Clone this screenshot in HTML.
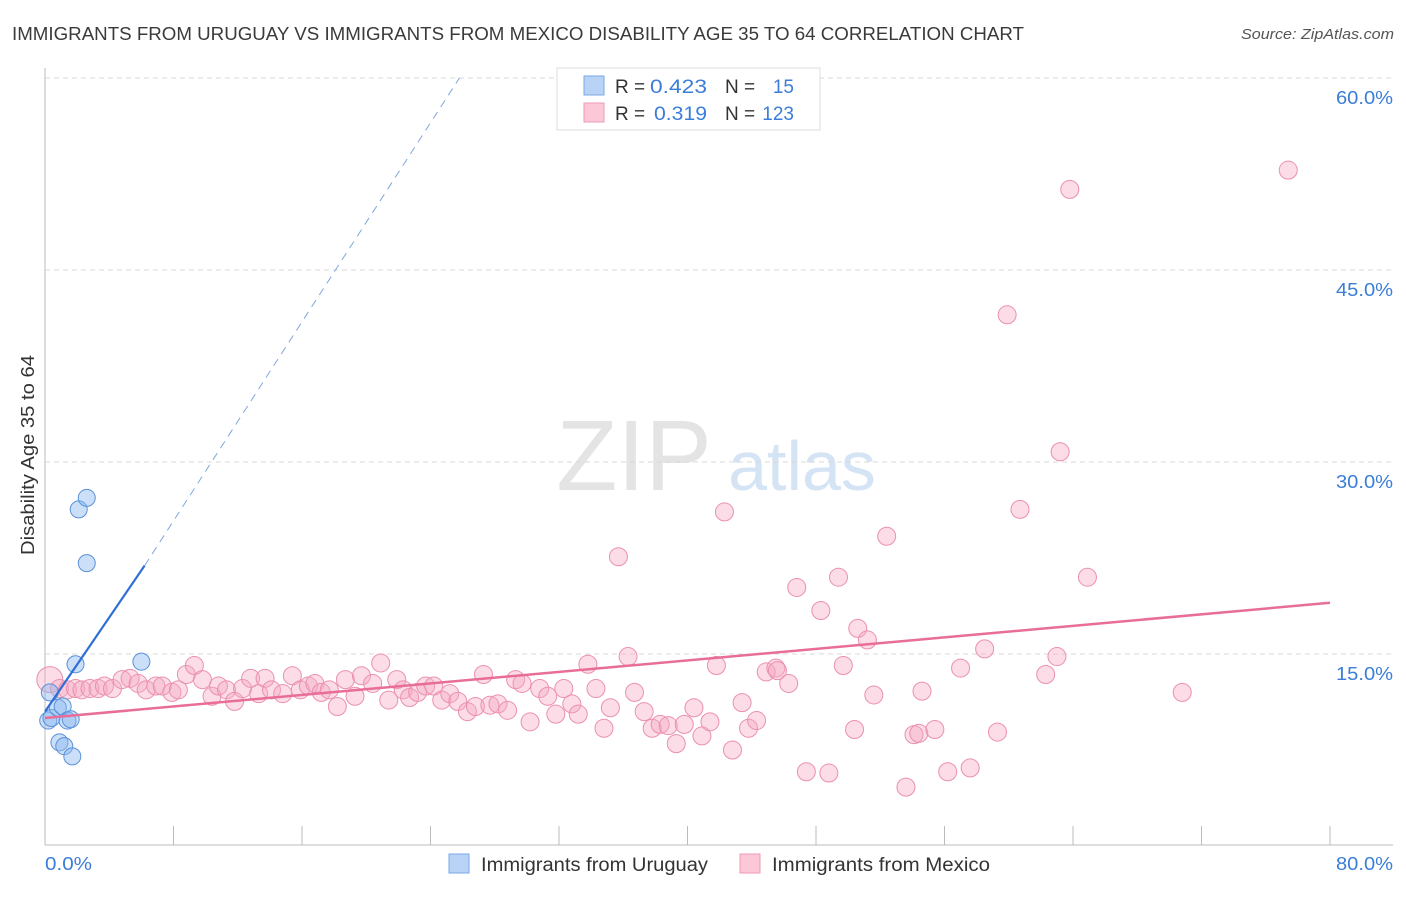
<!DOCTYPE html>
<html><head><meta charset="utf-8"><style>
body{margin:0;background:#fff;font-family:"Liberation Sans",sans-serif}
svg text{font-family:"Liberation Sans",sans-serif}
</style></head><body>
<svg id="chart" width="1406" height="892" viewBox="0 0 1406 892" xmlns="http://www.w3.org/2000/svg">
<text x="12" y="40" font-size="18" fill="#3a3a3a" textLength="1012" lengthAdjust="spacingAndGlyphs">IMMIGRANTS FROM URUGUAY VS IMMIGRANTS FROM MEXICO DISABILITY AGE 35 TO 64 CORRELATION CHART</text>
<text x="1241" y="39" font-size="15" fill="#555" font-style="italic" textLength="153" lengthAdjust="spacingAndGlyphs">Source: ZipAtlas.com</text>
<g>
<text x="634" y="490" font-size="100" fill="#e4e4e4" font-family="Liberation Serif" text-anchor="middle">ZIP</text>
<text x="802" y="490" font-size="70" fill="#d5e4f5" text-anchor="middle">atlas</text>
</g>
<g id="grid"></g>
<g id="axes"></g>
<g id="pink"></g>
<g id="blue"></g>
<g id="lines"></g>
<g>
<rect x="557" y="68" width="263" height="62" fill="#fff" stroke="#ddd"/>
<rect x="584" y="76" width="20" height="19" fill="#b8d3f5" stroke="#7aaae6"/>
<rect x="584" y="103" width="20" height="19" fill="#fcc8d8" stroke="#ef9ab5"/>
<text x="615" y="93" font-size="19" fill="#333">R = </text><text x="650" y="93" font-size="19" fill="#3b7dd8" textLength="57" lengthAdjust="spacingAndGlyphs">0.423</text>
<text x="725" y="93" font-size="19" fill="#333">N = </text><text x="794" y="93" font-size="19" fill="#3b7dd8" text-anchor="end">15</text>
<text x="615" y="120" font-size="19" fill="#333">R = </text><text x="654" y="120" font-size="19" fill="#3b7dd8" textLength="53" lengthAdjust="spacingAndGlyphs">0.319</text>
<text x="725" y="120" font-size="19" fill="#333">N = </text><text x="794" y="120" font-size="19" fill="#3b7dd8" text-anchor="end">123</text>
</g>
<g>
<rect x="449" y="854" width="20" height="19" fill="#b8d3f5" stroke="#7aaae6"/>
<text x="481" y="871" font-size="19" fill="#333" textLength="227" lengthAdjust="spacingAndGlyphs">Immigrants from Uruguay</text>
<rect x="740" y="854" width="20" height="19" fill="#fcc8d8" stroke="#ef9ab5"/>
<text x="772" y="871" font-size="19" fill="#333" textLength="218" lengthAdjust="spacingAndGlyphs">Immigrants from Mexico</text>
</g>
<text transform="translate(34,455) rotate(-90)" font-size="18" fill="#333" text-anchor="middle" textLength="200" lengthAdjust="spacingAndGlyphs">Disability Age 35 to 64</text>
</svg>
<script>
const yTicks=[15,30,45,60];
const yTickLabels=["15.0%","30.0%","45.0%","60.0%"];
const xTicks=[0,8,16,24,32,40,48,56,64,72,80];
const xEndLabels=["0.0%","80.0%"];
const blueX=[0.2,0.4,0.8,0.3,1.1,1.4,1.6,0.9,1.2,1.7,1.9,6.0,2.6,2.1,2.6];
const blueY=[9.8,10.0,10.8,12.0,10.9,9.8,9.9,8.1,7.8,7.0,14.2,14.4,22.1,26.3,27.2];
const pinkX=[0.3,0.9,1.4,1.9,2.3,2.8,3.3,3.7,4.2,4.8,5.3,5.8,6.3,6.9,7.3,7.9,8.3,8.8,9.3,9.8,10.4,10.8,11.3,11.8,12.3,12.8,13.3,13.7,14.1,14.8,15.4,15.9,16.4,16.8,17.2,17.7,18.2,18.7,19.3,19.7,20.4,20.9,21.4,21.9,22.3,22.7,23.2,23.7,24.2,24.7,25.2,25.7,26.3,26.8,27.3,27.7,28.2,28.8,29.3,29.7,30.2,30.8,31.3,31.8,32.3,32.8,33.2,33.8,34.3,34.8,35.2,35.7,36.3,36.7,37.3,37.8,38.3,38.8,39.3,39.8,40.4,40.9,41.4,41.8,42.3,42.8,43.4,43.8,44.3,44.9,45.5,45.6,46.3,46.8,47.4,48.3,48.8,49.4,49.7,50.4,50.6,51.2,51.6,52.4,53.6,54.1,54.4,54.6,55.4,56.2,57.0,57.6,58.5,59.3,59.9,60.7,62.3,63.0,63.2,63.8,64.9,70.8,77.4];
const pinkY=[13.0,12.3,12.2,12.3,12.2,12.3,12.3,12.5,12.3,13.0,13.1,12.7,12.2,12.5,12.5,12.0,12.2,13.4,14.1,13.0,11.7,12.5,12.2,11.3,12.3,13.1,11.9,13.1,12.2,11.9,13.3,12.2,12.5,12.7,12.0,12.2,10.9,13.0,11.7,13.3,12.7,14.3,11.4,13.0,12.2,11.6,12.0,12.5,12.5,11.4,11.9,11.3,10.5,10.9,13.4,11.0,11.1,10.6,13.0,12.7,9.7,12.3,11.7,10.3,12.3,11.1,10.3,14.2,12.3,9.2,10.8,22.6,14.8,12.0,10.5,9.2,9.5,9.4,8.0,9.5,10.8,8.6,9.7,14.1,26.1,7.5,11.2,9.2,9.8,13.6,13.9,13.7,12.7,20.2,5.8,18.4,5.7,21.0,14.1,9.1,17.0,16.1,11.8,24.2,4.6,8.7,8.8,12.1,9.1,5.8,13.9,6.1,15.4,8.9,41.5,26.3,13.4,14.8,30.8,51.3,21.0,12.0,52.8];
const blueLine=[[0,10.5],[6.2,21.9]];
const blueDash=[[6.2,21.9],[25.8,60]];
const pinkLine=[[0,10.0],[80,19.0]];
const NS="http://www.w3.org/2000/svg";
const X0=45,X1=1330,Y0=846,PXY=12.8;
const sx=v=>X0+(X1-X0)*v/80;
const sy=v=>Y0-v*PXY;
function mk(parent,tag,attrs){const e=document.createElementNS(NS,tag);for(const k in attrs)e.setAttribute(k,attrs[k]);document.getElementById(parent).appendChild(e);return e;}
yTicks.forEach((t,i)=>{
 const g=mk('grid','line',{x1:X0,x2:1393,y1:sy(t),y2:sy(t),stroke:'#d8d8d8','stroke-dasharray':'5,4'});
 
 
 const l=mk('axes','text',{x:1393,y:sy(t)+26,'font-size':18,fill:'#3b7dd8','text-anchor':'end',textLength:57,lengthAdjust:'spacingAndGlyphs'});l.textContent=yTickLabels[i];
 
 
});
const ax=mk('axes','line',{x1:X0,x2:X0,y1:68,y2:845,stroke:'#bbb'});


const bx=mk('axes','line',{x1:X0,x2:1393,y1:845,y2:845,stroke:'#bbb'});


xTicks.forEach(t=>{const k=mk('axes','line',{x1:sx(t),x2:sx(t),y1:826,y2:845,stroke:'#bbb'});
 
 });
const xl0=mk('axes','text',{x:45,y:870,'font-size':18,fill:'#3b7dd8',textLength:47,lengthAdjust:'spacingAndGlyphs'});xl0.textContent=xEndLabels[0];


const xl1=mk('axes','text',{x:1336,y:870,'font-size':18,fill:'#3b7dd8',textLength:57,lengthAdjust:'spacingAndGlyphs'});xl1.textContent=xEndLabels[1];


pinkX.forEach((v,i)=>{const c=mk('pink','circle',{cx:sx(v),cy:sy(pinkY[i]),r:i==0?13:9,fill:'rgba(246,168,196,0.4)',stroke:'#eb90b0','stroke-width':1});
 
 });
blueX.forEach((v,i)=>{const c=mk('blue','circle',{cx:sx(v),cy:sy(blueY[i]),r:8.5,fill:'rgba(140,185,240,0.45)',stroke:'#5a92da','stroke-width':1});
 
 });
const l1=mk('lines','line',{x1:sx(blueLine[0][0]),y1:sy(blueLine[0][1]),x2:sx(blueLine[1][0]),y2:sy(blueLine[1][1]),stroke:'#2f6fd6','stroke-width':2.2});


const l2=mk('lines','line',{x1:sx(blueDash[0][0]),y1:sy(blueDash[0][1]),x2:sx(blueDash[1][0]),y2:sy(blueDash[1][1]),stroke:'#7fa6e0','stroke-width':1,'stroke-dasharray':'8,6'});


const l3=mk('lines','line',{x1:sx(pinkLine[0][0]),y1:sy(pinkLine[0][1]),x2:sx(pinkLine[1][0]),y2:sy(pinkLine[1][1]),stroke:'#e86d98','stroke-width':2.5});


</script>
</body></html>
